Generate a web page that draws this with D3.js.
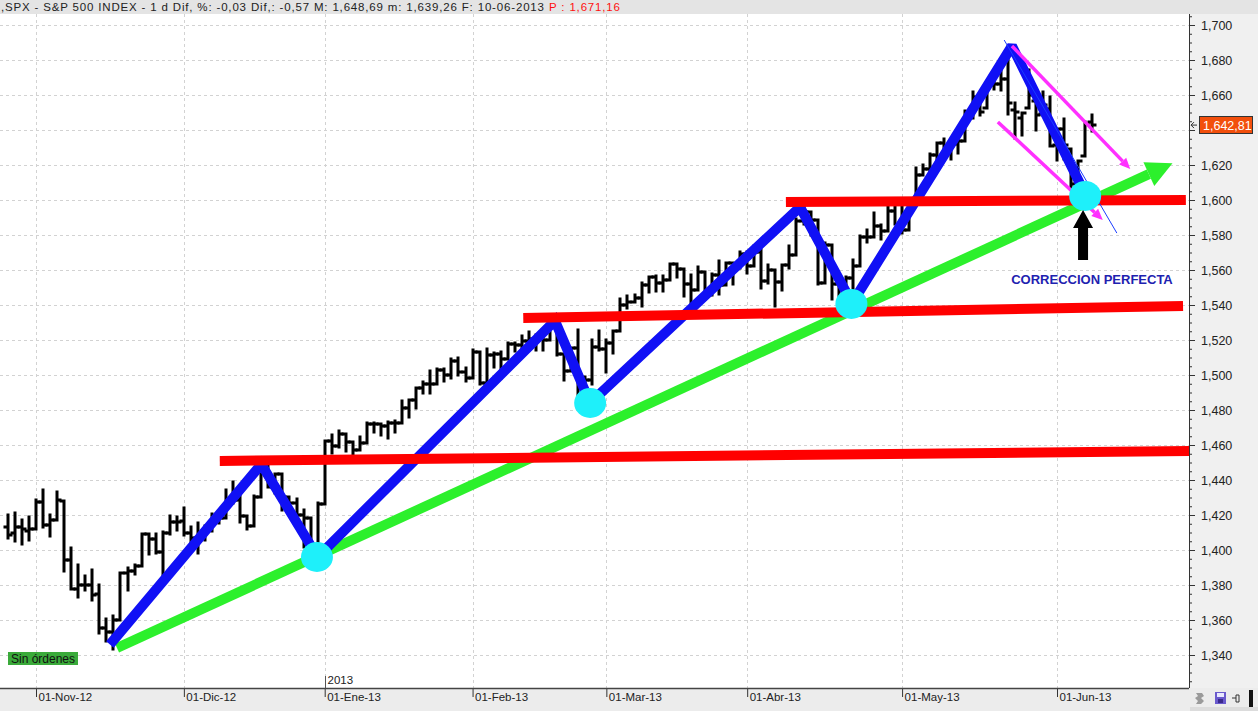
<!DOCTYPE html>
<html><head><meta charset="utf-8">
<script src="https://cdn.jsdelivr.net/npm/d3@7"></script>
<style>
body{margin:0;background:#fff;overflow:hidden}
svg{display:block}
text{font-family:"Liberation Sans",Arial,sans-serif}
</style></head><body>
<svg id="c" width="1258" height="711"></svg>
<script>
// ---------- DATA ----------
const dates = [
"2012-10-24","2012-10-25","2012-10-26","2012-10-31",
"2012-11-01","2012-11-02","2012-11-05","2012-11-06","2012-11-07","2012-11-08","2012-11-09","2012-11-12","2012-11-13","2012-11-14","2012-11-15","2012-11-16","2012-11-19","2012-11-20","2012-11-21","2012-11-23","2012-11-26","2012-11-27","2012-11-28","2012-11-29","2012-11-30",
"2012-12-03","2012-12-04","2012-12-05","2012-12-06","2012-12-07","2012-12-10","2012-12-11","2012-12-12","2012-12-13","2012-12-14","2012-12-17","2012-12-18","2012-12-19","2012-12-20","2012-12-21","2012-12-24","2012-12-26","2012-12-27","2012-12-28","2012-12-31",
"2013-01-02","2013-01-03","2013-01-04","2013-01-07","2013-01-08","2013-01-09","2013-01-10","2013-01-11","2013-01-14","2013-01-15","2013-01-16","2013-01-17","2013-01-18","2013-01-22","2013-01-23","2013-01-24","2013-01-25","2013-01-28","2013-01-29","2013-01-30","2013-01-31",
"2013-02-01","2013-02-04","2013-02-05","2013-02-06","2013-02-07","2013-02-08","2013-02-11","2013-02-12","2013-02-13","2013-02-14","2013-02-15","2013-02-19","2013-02-20","2013-02-21","2013-02-22","2013-02-25","2013-02-26","2013-02-27","2013-02-28",
"2013-03-01","2013-03-04","2013-03-05","2013-03-06","2013-03-07","2013-03-08","2013-03-11","2013-03-12","2013-03-13","2013-03-14","2013-03-15","2013-03-18","2013-03-19","2013-03-20","2013-03-21","2013-03-22","2013-03-25","2013-03-26","2013-03-27","2013-03-28",
"2013-04-01","2013-04-02","2013-04-03","2013-04-04","2013-04-05","2013-04-08","2013-04-09","2013-04-10","2013-04-11","2013-04-12","2013-04-15","2013-04-16","2013-04-17","2013-04-18","2013-04-19","2013-04-22","2013-04-23","2013-04-24","2013-04-25","2013-04-26","2013-04-29","2013-04-30",
"2013-05-01","2013-05-02","2013-05-03","2013-05-06","2013-05-07","2013-05-08","2013-05-09","2013-05-10","2013-05-13","2013-05-14","2013-05-15","2013-05-16","2013-05-17","2013-05-20","2013-05-21","2013-05-22","2013-05-23","2013-05-24","2013-05-28","2013-05-29","2013-05-30","2013-05-31",
"2013-06-03","2013-06-04","2013-06-05","2013-06-06","2013-06-07","2013-06-10"];

const open = [
1413.20,1409.74,1412.97,1410.99,
1412.20,1427.59,1414.02,1417.26,1428.27,1394.53,1377.55,1379.86,1380.03,1374.64,1355.41,1353.36,1359.88,1386.82,1387.79,1391.03,1409.15,1406.29,1398.77,1409.96,1415.95,
1416.34,1409.46,1407.05,1409.43,1413.95,1418.07,1418.55,1427.84,1428.48,1419.45,1413.54,1430.47,1446.79,1435.81,1443.67,1430.15,1426.66,1419.83,1418.10,1402.43,
1426.19,1462.42,1459.37,1466.47,1461.89,1457.15,1461.02,1472.12,1472.05,1470.67,1472.33,1472.63,1480.95,1485.98,1492.56,1494.81,1494.82,1502.96,1500.18,1507.84,1501.96,
1498.11,1513.17,1495.71,1511.29,1512.12,1509.39,1517.93,1517.01,1519.43,1520.33,1521.38,1519.79,1530.94,1511.95,1502.42,1515.60,1487.85,1496.94,1515.99,
1514.68,1518.20,1525.20,1539.79,1541.46,1544.26,1551.15,1556.22,1552.48,1554.52,1563.21,1560.70,1552.10,1548.34,1558.71,1545.90,1556.89,1551.69,1563.75,1562.86,
1569.18,1562.17,1570.25,1553.69,1559.98,1553.26,1563.11,1568.61,1587.73,1593.30,1588.84,1552.36,1574.57,1552.03,1541.61,1555.25,1562.50,1578.78,1578.93,1585.16,1582.34,1593.58,
1597.55,1582.77,1597.60,1614.40,1617.55,1625.95,1632.69,1626.69,1632.10,1633.75,1649.13,1658.07,1652.45,1665.71,1666.20,1669.39,1651.62,1646.67,1652.63,1656.57,1649.14,1652.13,
1631.71,1640.73,1629.05,1609.29,1625.27,1644.67];

const high = [
1420.04,1421.12,1417.09,1418.76,
1428.35,1434.27,1419.90,1433.38,1428.27,1401.23,1391.39,1384.87,1388.81,1380.13,1360.62,1362.03,1386.89,1389.77,1391.25,1409.16,1409.15,1409.01,1410.31,1419.70,1418.86,
1423.73,1413.14,1415.56,1413.95,1420.34,1421.64,1434.27,1438.59,1431.36,1419.45,1430.67,1448.00,1447.75,1443.70,1443.67,1430.15,1429.42,1422.80,1418.10,1426.74,
1462.43,1465.47,1467.94,1466.47,1461.89,1464.73,1472.30,1472.75,1472.05,1473.31,1473.96,1485.16,1485.98,1492.56,1496.13,1502.27,1503.26,1503.23,1509.35,1509.94,1504.19,
1514.41,1513.17,1514.96,1512.53,1512.90,1518.31,1518.31,1522.29,1524.69,1523.14,1524.24,1530.94,1530.94,1511.95,1515.64,1525.84,1498.99,1520.08,1525.34,
1519.99,1525.27,1543.47,1545.25,1545.78,1552.48,1556.27,1556.77,1556.39,1563.32,1563.62,1560.70,1557.25,1561.56,1558.71,1557.74,1564.91,1563.95,1564.07,1570.28,
1570.57,1573.66,1571.47,1562.60,1559.98,1563.07,1573.89,1589.07,1597.35,1593.30,1588.84,1575.35,1574.57,1554.38,1555.89,1565.55,1579.58,1583.00,1592.64,1585.78,1596.65,1597.57,
1597.55,1598.60,1618.46,1619.77,1626.03,1632.78,1635.01,1633.70,1636.00,1651.10,1661.49,1660.51,1667.47,1672.84,1674.93,1687.18,1655.50,1649.78,1674.21,1656.57,1661.91,1658.99,
1640.42,1646.53,1629.31,1622.56,1644.40,1648.69];

const low = [
1407.10,1405.14,1403.28,1405.95,
1412.20,1412.91,1408.13,1417.26,1388.14,1377.51,1373.03,1377.19,1371.39,1352.50,1348.05,1343.35,1359.88,1377.04,1386.39,1391.03,1397.68,1398.03,1385.43,1409.04,1411.63,
1408.46,1403.65,1398.23,1405.93,1410.90,1415.64,1418.55,1426.76,1416.00,1411.88,1413.54,1430.47,1435.80,1432.82,1422.58,1424.66,1414.75,1401.80,1401.58,1398.11,
1426.19,1455.53,1458.99,1456.62,1451.64,1457.15,1461.02,1467.58,1465.69,1463.76,1467.60,1472.63,1475.81,1481.16,1489.90,1489.46,1494.82,1496.33,1498.09,1500.11,1496.76,
1498.11,1495.02,1495.71,1504.71,1498.49,1509.39,1513.61,1515.61,1515.93,1514.02,1514.14,1519.79,1511.41,1497.29,1502.42,1487.85,1485.01,1494.88,1514.46,
1501.48,1512.29,1525.20,1538.11,1541.46,1539.19,1547.36,1548.24,1548.25,1554.52,1555.74,1545.13,1538.57,1548.34,1543.55,1545.90,1546.22,1551.69,1551.90,1561.08,
1558.47,1562.17,1549.80,1552.52,1539.50,1548.63,1560.92,1568.61,1586.17,1579.97,1552.28,1552.36,1543.69,1536.03,1539.40,1548.19,1562.50,1575.80,1578.93,1577.56,1582.34,1586.50,
1581.28,1582.77,1597.60,1614.21,1616.64,1622.70,1623.09,1623.71,1626.74,1633.75,1646.68,1648.60,1652.45,1663.52,1662.67,1648.86,1635.53,1636.88,1652.63,1640.05,1648.61,1630.74,
1622.72,1623.62,1607.09,1598.23,1625.27,1639.26];

const close = [
1408.75,1412.97,1411.94,1412.16,
1427.59,1414.20,1417.26,1428.39,1394.53,1377.51,1379.85,1380.03,1374.53,1355.49,1353.33,1359.88,1386.89,1387.81,1391.03,1409.15,1406.29,1398.94,1409.93,1415.95,1416.18,
1409.46,1407.05,1409.28,1413.94,1418.07,1418.55,1427.84,1428.48,1419.45,1413.58,1430.36,1446.79,1435.81,1443.69,1430.15,1426.66,1419.83,1418.10,1402.43,1426.19,
1462.42,1459.37,1466.47,1461.89,1457.15,1461.02,1472.12,1472.05,1470.68,1472.34,1472.63,1480.94,1485.98,1492.56,1494.81,1494.82,1502.96,1500.18,1507.84,1501.96,1498.11,
1513.17,1495.71,1511.29,1512.12,1509.39,1517.93,1517.01,1519.43,1520.33,1521.38,1519.79,1530.94,1511.95,1502.42,1515.60,1487.85,1496.94,1515.99,1514.68,
1518.20,1525.20,1539.79,1541.46,1544.26,1551.18,1556.22,1552.48,1554.52,1563.23,1560.70,1552.10,1548.34,1558.71,1545.80,1556.89,1551.69,1563.77,1562.85,1569.19,
1562.17,1570.25,1553.69,1559.98,1553.28,1563.07,1568.61,1587.73,1593.37,1588.85,1552.36,1574.57,1552.01,1541.61,1555.25,1562.50,1578.78,1578.79,1585.16,1582.24,1593.61,1597.57,
1582.70,1597.59,1614.42,1617.50,1625.96,1632.69,1626.67,1633.70,1633.77,1650.34,1658.78,1650.47,1667.47,1666.29,1669.16,1655.35,1650.51,1649.60,1660.06,1648.36,1654.41,1630.74,
1640.42,1631.38,1608.90,1622.56,1643.38,1642.81];

const monthDates  = ["2012-11-01","2012-12-03","2013-01-02","2013-02-01","2013-03-01","2013-04-01","2013-05-01","2013-06-03"];
const monthLabels = ["01-Nov-12","01-Dic-12","01-Ene-13","01-Feb-13","01-Mar-13","01-Abr-13","01-May-13","01-Jun-13"];
const yearMark = {date:"2013-01-02", label:"2013"};
const yTickValues = d3.range(1340, 1701, 20);

const titleText = ",SPX - S&P 500 INDEX -  1 d Dif, %: -0,03 Dif,: -0,57 M: 1,648,69 m: 1,639,26 F: 10-06-2013";
const titleRed  = "P : 1,671,16";
const lastPrice = 1642.81;

// annotations in (bar index, price)
const zigzag   = [[14.5,1346],[36,1449],[44,1396],[77.7,1531],[82.7,1484],[112.5,1596],[119.9,1541],[142.6,1688],[152.8,1605]];
const pivots   = [[43.9,1396],[82.7,1484],[119.8,1540.6],[153.0,1602.3]];
const levels   = [[[30.1,1450.9],[167.9,1456.6]],[[73.2,1532.6],[166.9,1539.4]],[[110.5,1598.9],[167.3,1600]]];
const trend    = [[15.5,1344],[165.4,1621]];
const channel  = [[[142.6,1688],[159.4,1617.7]],[[140.6,1644.6],[155.5,1588.6]]];
const thinLine = [[141.5,1691.4],[157.5,1581.1]];
const upArrow  = {at:152.7, tip:1594.3, tail:1565.7};
const note     = {text:"CORRECCION PERFECTA", at:[142.5,1552]};

// ---------- LAYOUT ----------
const W = 1258, H = 711;
const plotR = 1189, plotT = 14, plotB = 688;

const idx = d => dates.indexOf(d);
const x = d3.scaleLinear().domain([idx("2012-11-01"), idx("2013-06-03")]).range([36, 1057]);
const y = d3.scaleLinear().domain([1340, 1700]).range([655, 25]);
const P = p => [x(p[0]), y(p[1])];

const svg = d3.select("#c");
svg.append("rect").attr("width",W).attr("height",H).attr("fill","#f0f0f0");
svg.append("rect").attr("x",0).attr("y",plotT).attr("width",plotR).attr("height",plotB-plotT).attr("fill","#fff");
svg.append("rect").attr("x",0).attr("y",0).attr("width",W).attr("height",plotT).attr("fill","#e4e4e4");
svg.append("rect").attr("x",0).attr("y",plotB).attr("width",W).attr("height",H-plotB).attr("fill","#ececec");

const defs = svg.append("defs");
defs.append("clipPath").attr("id","clip").append("rect").attr("x",0).attr("y",plotT).attr("width",plotR).attr("height",plotB-plotT);

// grid
const grid = svg.append("g").attr("stroke","#d2d2d2").attr("stroke-dasharray","3,3").attr("shape-rendering","crispEdges");
grid.selectAll("line.h").data(yTickValues).join("line")
  .attr("x1",0).attr("x2",plotR).attr("y1",d=>Math.round(y(d))+0.5).attr("y2",d=>Math.round(y(d))+0.5);
grid.selectAll("line.v").data(monthDates).join("line")
  .attr("y1",plotT).attr("y2",plotB).attr("x1",d=>Math.round(x(idx(d)))+0.5).attr("x2",d=>Math.round(x(idx(d)))+0.5);

// OHLC bars
const gBars = svg.append("g").attr("clip-path","url(#clip)")
  .attr("stroke","#000").attr("stroke-width",3).attr("fill","none").attr("stroke-linecap","square");
gBars.selectAll("path").data(d3.range(dates.length)).join("path")
  .attr("d", i => {
    const cx = Math.round(x(i));
    const yo = Math.round(y(open[i])), yc = Math.round(y(close[i]));
    return `M${cx},${Math.round(y(high[i]))}V${Math.round(y(low[i]))}M${cx-3},${yo}H${cx}M${cx},${yc}H${cx+3}`;
  });

// annotations
const ann = svg.append("g").attr("clip-path","url(#clip)");
const line = d3.line().x(d=>x(d[0])).y(d=>y(d[1]));

function arrowHead(p0, p1, len, wid){
  const a = P(p0), b = P(p1);
  const dx = b[0]-a[0], dy = b[1]-a[1], L = Math.hypot(dx,dy);
  const ux = dx/L, uy = dy/L, nx = -uy, ny = ux;
  const bx = b[0]-ux*len, by = b[1]-uy*len;
  return {base:[bx,by], pts:[[b[0],b[1]],[bx+nx*wid/2,by+ny*wid/2],[bx-nx*wid/2,by-ny*wid/2]]};
}

// green trend line with arrow
const gh = arrowHead(trend[0], trend[1], 26, 26);
ann.append("line").attr("x1",x(trend[0][0])).attr("y1",y(trend[0][1])).attr("x2",gh.base[0]).attr("y2",gh.base[1])
  .attr("stroke","#2cf02c").attr("stroke-width",10);
ann.append("polygon").attr("points",gh.pts.map(p=>p.join(",")).join(" ")).attr("fill","#2cf02c");

// blue zigzag
ann.append("path").attr("d",line(zigzag)).attr("fill","none").attr("stroke","#1010f5")
  .attr("stroke-width",10).attr("stroke-linejoin","miter").attr("stroke-miterlimit",2);

// red horizontal levels
ann.selectAll("path.lvl").data(levels).join("path").attr("class","lvl")
  .attr("d",line).attr("stroke","#ff0000").attr("stroke-width",10).attr("fill","none");

// thin blue line
ann.append("path").attr("d",line(thinLine)).attr("stroke","#1a3cff").attr("stroke-width",1).attr("fill","none");

// magenta channel
channel.forEach(seg=>{
  const h = arrowHead(seg[0], seg[1], 11, 10);
  ann.append("line").attr("x1",x(seg[0][0])).attr("y1",y(seg[0][1])).attr("x2",h.base[0]).attr("y2",h.base[1])
    .attr("stroke","#ff30ff").attr("stroke-width",3.5);
  ann.append("polygon").attr("points",h.pts.map(p=>p.join(",")).join(" ")).attr("fill","#ff30ff");
});

// cyan pivots
ann.selectAll("ellipse").data(pivots).join("ellipse")
  .attr("cx",d=>x(d[0])).attr("cy",d=>y(d[1])).attr("rx",16).attr("ry",15).attr("fill","#1ef0fa");

// black up arrow
{
  const ax = x(upArrow.at), yt = y(upArrow.tip), yb = y(upArrow.tail);
  const hw = 10, sw = 5, hl = 18;
  ann.append("polygon").attr("fill","#000").attr("points",[
    [ax,yt],[ax+hw,yt+hl],[ax+sw,yt+hl],[ax+sw,yb],[ax-sw,yb],[ax-sw,yt+hl],[ax-hw,yt+hl]
  ].map(p=>p.join(",")).join(" "));
}

// note
svg.append("text").attr("x",x(note.at[0])).attr("y",y(note.at[1]))
  .attr("font-size",13).attr("font-weight","bold").attr("fill","#1e22b0").text(note.text);

// right axis (the 1,640 label sits behind the last-price box, as in the source)
const gy = svg.append("g").attr("transform",`translate(${plotR},0)`);
gy.call(d3.axisRight(y).tickValues(d3.range(1325,1706,5).filter(v=>v%20!==0)).tickSize(3).tickFormat(""));
gy.call(g=>g.select(".domain").remove());
const gy2 = svg.append("g").attr("transform",`translate(${plotR},0)`);
gy2.call(d3.axisRight(y).tickValues(yTickValues).tickSize(6).tickPadding(6)
  .tickFormat(v => Math.abs(v - lastPrice) < 10 ? "" : d3.format(",")(v)));
gy2.select(".domain").remove();
svg.selectAll(".tick line").attr("stroke","#333");
gy2.selectAll("text").attr("font-size",12.5).attr("fill","#222").attr("font-family","'Liberation Sans',Arial,sans-serif");
svg.append("line").attr("x1",plotR+0.5).attr("x2",plotR+0.5).attr("y1",plotT).attr("y2",plotB).attr("stroke","#333");

// last price label
{
  const py = y(lastPrice);
  svg.append("rect").attr("x",1199.5).attr("y",Math.round(py)-8.5).attr("width",53).attr("height",17)
    .attr("fill","#f24f0c").attr("stroke","#333");
  svg.append("text").attr("x",1203).attr("y",py+4.5).attr("font-size",12.5).attr("fill","#fff")
    .text(d3.format(",.2f")(lastPrice).replace(/\.(\d\d)$/,",$1"));
  svg.append("path").attr("d",`M${plotR+8},${py}H${plotR+2}M${plotR+5},${py-3}L${plotR+2},${py}L${plotR+5},${py+3}`)
    .attr("stroke","#333").attr("fill","none");
}

// bottom axis
const gx = svg.append("g").attr("transform",`translate(0,${plotB})`);
gx.call(d3.axisBottom(x).tickValues(monthDates.map(idx)).tickSize(9).tickFormat((d,i)=>monthLabels[i]));
gx.select(".domain").remove();
gx.selectAll(".tick line").attr("stroke","#333");
gx.selectAll("text").attr("text-anchor","start").attr("x",2).attr("y",5)
  .attr("font-size",11.5).attr("fill","#222").attr("font-family","'Liberation Sans',Arial,sans-serif");
svg.append("line").attr("x1",0).attr("x2",plotR).attr("y1",plotB+0.5).attr("y2",plotB+0.5).attr("stroke","#444").attr("stroke-width",1.5);

// year marker
{
  const yx = Math.round(x(idx(yearMark.date)))+0.5;
  svg.append("line").attr("x1",yx).attr("x2",yx).attr("y1",plotB-12).attr("y2",plotB).attr("stroke","#555");
  svg.append("text").attr("x",yx+2).attr("y",plotB-4).attr("font-size",11.5).attr("fill","#222").text(yearMark.label);
}

// title
svg.append("text").attr("x",1).attr("y",11).attr("font-size",11.5).attr("fill","#222")
  .attr("textLength",543).attr("lengthAdjust","spacing").text(titleText);
svg.append("text").attr("x",549).attr("y",11).attr("font-size",11.5).attr("fill","#ff1010")
  .attr("textLength",71).attr("lengthAdjust","spacing").text(titleRed);

// "Sin órdenes" badge
svg.append("rect").attr("x",8).attr("y",652).attr("width",70).attr("height",13).attr("fill","#3aaa3a");
svg.append("text").attr("x",11).attr("y",662.5).attr("font-size",12).attr("fill","#111")
  .attr("textLength",64).attr("lengthAdjust","spacing").text("Sin órdenes");

// bottom-right toolbar icons
{
  const t = svg.append("g");
  t.append("rect").attr("x",1190).attr("y",689).attr("width",68).attr("height",18).attr("fill","#ececec");
  t.append("path").attr("d","M1196,693h6l2,3l-3,2l3,3l-3,3h-5l2,-3l-3,-3l3,-2z").attr("fill","#9a9a9a");
  t.append("rect").attr("x",1215).attr("y",692).attr("width",11).attr("height",12).attr("fill","#6a5acd");
  t.append("rect").attr("x",1217).attr("y",693).attr("width",7).attr("height",4).attr("fill","#e8e8ff");
  t.append("rect").attr("x",1218).attr("y",699).attr("width",5).attr("height",4).attr("fill","#3a2a8d");
  t.append("path").attr("d","M1232,698h4M1236,695v7M1236,695h3v7h-3").attr("stroke","#333").attr("fill","none");
  t.append("rect").attr("x",1249).attr("y",690).attr("width",4).attr("height",17).attr("fill","#111");
  t.append("rect").attr("x",1190).attr("y",707).attr("width",68).attr("height",4).attr("fill","#dcdcdc");
}
</script>
</body></html>
